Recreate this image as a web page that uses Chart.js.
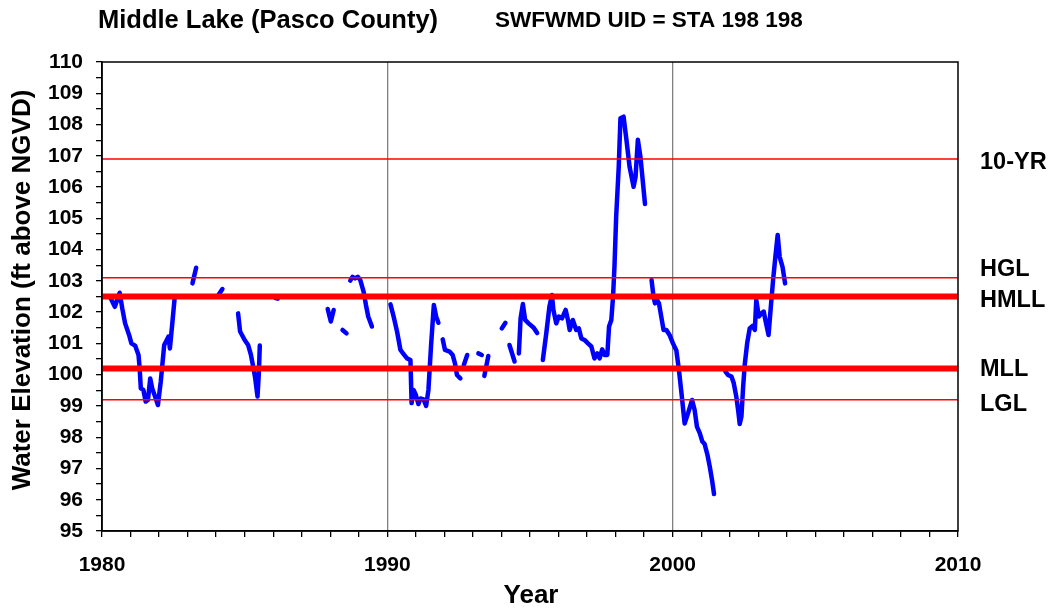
<!DOCTYPE html>
<html>
<head>
<meta charset="utf-8">
<script src="https://cdn.jsdelivr.net/npm/chart.js@4/dist/chart.umd.min.js"></script>
<style>
html,body{margin:0;padding:0;background:#fff;}
#wrap{position:relative;width:1057px;height:608px;}
canvas{display:block;}
</style>
</head>
<body>
<div id="wrap"><canvas id="c" width="1057" height="608"></canvas></div>
<script>
// ---- data ----
const chartTitle = "Middle Lake (Pasco County)";
const chartSubtitle = "SWFWMD UID = STA 198 198";
const xAxisTitle = "Year";
const yAxisTitle = "Water Elevation (ft above NGVD)";
const xLabelYears = [1980, 1990, 2000, 2010];
const verticalRefYears = [1990, 2000];

// measured lake level (decimal year / ft NGVD); null = gap in record
const years = [
  1980.28,1980.45,1980.62,1980.71,1980.81,1980.95,1981.03,1981.16,1981.28,1981.32,1981.36,1981.45,1981.53,1981.61,1981.69,1981.76,1981.86,1981.96,1982.06,1982.18,1982.27,1982.33,1982.38,1982.47,1982.55,1982.70,
  1982.9,
  1983.17,1983.30,
  1983.7,
  1984.07,1984.22,
  1984.5,
  1984.77,1984.84,1985.00,1985.12,1985.22,1985.31,1985.37,1985.45,1985.50,1985.53,
  1985.8,
  1986.08,1986.16,
  1987.0,
  1987.91,1988.02,1988.12,
  1988.3,
  1988.43,1988.57,
  1988.65,
  1988.70,1988.78,1988.87,1988.96,1989.05,1989.17,1989.25,1989.33,1989.46,
  1989.8,
  1990.11,1990.22,1990.34,1990.46,1990.57,1990.69,1990.81,1990.85,1990.92,1991.00,1991.09,1991.16,1991.27,1991.36,1991.44,1991.53,1991.63,1991.71,1991.79,
  1991.87,
  1991.94,1992.02,1992.18,1992.29,1992.37,1992.44,1992.56,
  1992.62,
  1992.68,1992.80,
  1993.0,
  1993.19,1993.31,
  1993.36,
  1993.40,1993.54,
  1993.8,
  1994.01,1994.14,
  1994.2,
  1994.28,1994.46,
  1994.54,
  1994.61,1994.67,1994.75,1994.83,1994.95,1995.13,1995.25,
  1995.35,
  1995.45,1995.57,1995.68,1995.77,1995.82,1995.92,1996.01,1996.12,1996.25,1996.33,1996.39,1996.50,1996.62,1996.71,1996.80,1996.91,1997.03,1997.15,1997.26,1997.36,1997.44,1997.53,1997.61,1997.71,1997.77,1997.85,1997.91,1997.96,1998.02,1998.11,1998.17,1998.28,1998.38,1998.49,1998.63,1998.70,1998.78,1998.87,1998.96,1999.03,
  1999.15,
  1999.26,1999.33,1999.38,1999.45,1999.52,1999.60,1999.68,1999.78,1999.89,2000.01,2000.13,2000.22,2000.31,2000.42,2000.54,2000.68,2000.77,2000.85,2000.95,2001.04,2001.12,2001.22,2001.30,2001.38,2001.45,
  2001.65,
  2001.85,2001.94,2002.06,2002.14,2002.23,2002.30,2002.35,2002.41,2002.47,2002.53,2002.61,2002.70,2002.80,2002.88,2002.93,2003.02,2003.11,2003.19,2003.26,2003.36,2003.44,2003.52,2003.60,2003.68,2003.75,2003.85,2003.94
];
const levels = [
  102.49,102.17,102.62,102.12,101.64,101.27,101.00,100.93,100.63,100.20,99.56,99.51,99.14,99.19,99.88,99.56,99.30,99.03,99.78,100.95,101.11,101.22,100.84,101.70,102.49,102.50,
  null,
  102.92,103.42,
  null,
  102.53,102.74,
  null,
  101.96,101.38,101.11,100.95,100.63,100.20,99.88,99.30,100.10,100.93,
  null,
  102.45,102.43,
  null,
  102.10,101.70,102.07,
  null,
  101.43,101.32,
  null,
  103.01,103.13,103.08,103.13,103.03,102.65,102.23,101.86,101.54,
  null,
  102.25,101.86,101.38,100.79,100.66,100.52,100.47,99.09,99.51,99.35,99.06,99.24,99.21,99.00,99.51,100.90,102.23,101.86,101.66,
  null,
  101.13,100.79,100.74,100.63,100.36,99.99,99.88,
  null,
  100.31,100.63,
  null,
  100.68,100.63,
  null,
  99.96,100.60,
  null,
  101.48,101.66,
  null,
  100.95,100.42,
  null,
  100.68,101.80,102.26,101.75,101.64,101.50,101.33,
  null,
  100.47,101.32,102.17,102.55,102.07,101.64,101.86,101.80,102.07,101.75,101.43,101.75,101.43,101.48,101.16,101.11,101.00,100.90,100.52,100.68,100.52,100.81,100.63,100.63,101.54,101.75,102.49,103.45,105.05,106.65,108.20,108.25,107.51,106.65,106.01,106.33,107.51,106.97,106.12,105.46,
  null,
  103.03,102.49,102.28,102.39,102.28,101.86,101.43,101.43,101.27,101.00,100.77,100.15,99.40,98.44,98.77,99.19,98.87,98.34,98.13,97.86,97.78,97.43,97.06,96.63,96.18,
  null,
  100.10,99.99,99.94,99.73,99.30,98.82,98.42,98.66,99.62,100.36,101.00,101.48,101.56,101.43,102.39,101.86,101.96,102.02,101.70,101.27,102.17,103.03,103.77,104.47,103.77,103.45,102.92
];

// regulatory reference levels (ft NGVD)
const refNames  = ["10-YR", "HGL", "HMLL", "MLL", "LGL"];
const refValues = [106.9, 103.1, 102.5, 100.2, 99.2];

// ---- styles ----
const FONT = "'Liberation Sans', Arial, Helvetica, sans-serif";
const refStyle = {
  "10-YR": {w: 1.6, dy: 4},
  "HGL":   {w: 1.6, dy: -8},
  "HMLL":  {w: 6,   dy: 4},
  "MLL":   {w: 6,   dy: 1},
  "LGL":   {w: 1.6, dy: 5}
};

const levelPoints = years.map((x, i) => ({x: x, y: levels[i]}));
const refDatasets = refNames.map((n, i) => ({
  label: n,
  data: [{x: 1980, y: refValues[i]}, {x: 2010, y: refValues[i]}],
  borderColor: '#ff0000',
  borderWidth: refStyle[n].w,
  pointRadius: 0,
  tension: 0,
  order: 0
}));

const decor = {
  id: 'decor',
  afterDraw(chart) {
    const ctx = chart.ctx;
    const a = chart.chartArea;
    const ys = chart.scales.y;
    ctx.save();
    // frame
    ctx.strokeStyle = '#000';
    ctx.lineWidth = 1.5;
    ctx.strokeRect(a.left, a.top, a.right - a.left, a.bottom - a.top);
    ctx.fillStyle = '#000';
    // titles
    ctx.textBaseline = 'middle';
    ctx.textAlign = 'left';
    ctx.font = "bold 25.5px " + FONT;
    ctx.fillText(chartTitle, 98, 21);
    ctx.font = "bold 22.5px " + FONT;
    ctx.fillText(chartSubtitle, 495, 21);
    // x title
    ctx.textAlign = 'center';
    ctx.font = "bold 26px " + FONT;
    ctx.fillText(xAxisTitle, 531, 596);
    // y title
    ctx.save();
    ctx.translate(23, 290);
    ctx.rotate(-Math.PI / 2);
    ctx.font = "bold 26px " + FONT;
    ctx.fillText(yAxisTitle, 0, 0);
    ctx.restore();
    // right labels
    ctx.textAlign = 'left';
    ctx.font = "bold 23.5px " + FONT;
    refNames.forEach((n, i) => {
      ctx.fillText(n, 980, ys.getPixelForValue(refValues[i]) + refStyle[n].dy);
    });
    ctx.restore();
  }
};

new Chart(document.getElementById('c'), {
  type: 'line',
  data: {
    datasets: [
      {
        label: 'Water level',
        data: levelPoints,
        borderColor: '#0000ff',
        borderWidth: 4.5,
        pointRadius: 0,
        tension: 0,
        spanGaps: false,
        borderCapStyle: 'round',
        borderJoinStyle: 'round',
        order: 1
      },
      ...refDatasets
    ]
  },
  options: {
    responsive: false,
    animation: false,
    devicePixelRatio: 1,
    layout: {padding: {left: 0, top: 62, right: 99, bottom: 0}},
    plugins: {legend: {display: false}, tooltip: {enabled: false}, title: {display: false}},
    scales: {
      x: {
        type: 'linear',
        min: 1980, max: 2010,
        afterFit: s => { s.height = 77; },
        ticks: {
          stepSize: 1, autoSkip: false, maxRotation: 0, maxTicksLimit: 100,
          padding: 16, color: '#000',
          font: {family: FONT, size: 21, weight: 'bold'},
          callback: v => xLabelYears.includes(v) ? String(v) : ''
        },
        grid: {
          color: c => (c.tick && verticalRefYears.includes(c.tick.value)) ? '#808080' : 'rgba(0,0,0,0)',
          tickColor: '#000',
          tickLength: 6,
          lineWidth: 1.3
        },
        border: {display: true, color: '#000', width: 1.5}
      },
      y: {
        min: 95, max: 110,
        afterFit: s => { s.width = 102; },
        ticks: {
          stepSize: 0.5, autoSkip: false, maxTicksLimit: 100,
          padding: 13, color: '#000',
          font: {family: FONT, size: 21, weight: 'bold'},
          callback: v => Number.isInteger(v) ? String(v) : ''
        },
        grid: {
          color: 'rgba(0,0,0,0)',
          tickColor: '#000',
          tickLength: 6,
          lineWidth: 1.3
        },
        border: {display: true, color: '#000', width: 1.5}
      }
    }
  },
  plugins: [decor]
});
</script>
</body>
</html>
